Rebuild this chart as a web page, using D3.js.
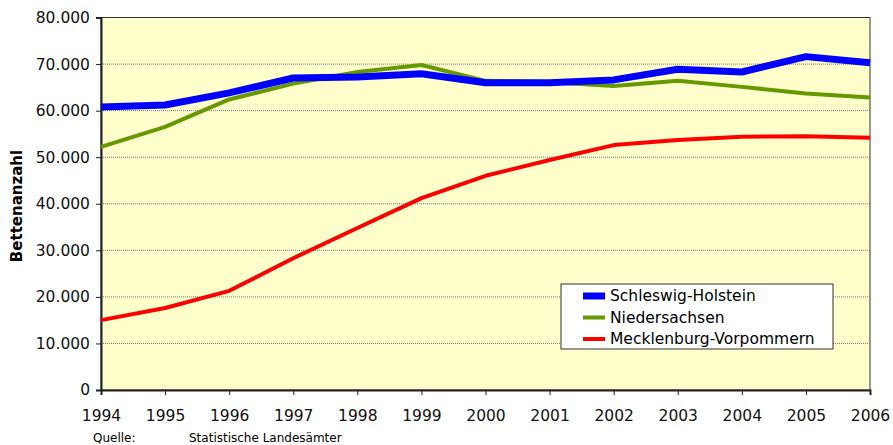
<!DOCTYPE html>
<html>
<head>
<meta charset="utf-8">
<script src="https://cdn.jsdelivr.net/npm/d3@7"></script>
<style>
  body { margin: 0; background: #fff; }
  svg { font-family: "DejaVu Sans", Verdana, sans-serif; }
  .axis path, .axis line { stroke: #222; }
</style>
</head>
<body>
<svg id="chart"></svg>
<script>
const years = [1994, 1995, 1996, 1997, 1998, 1999, 2000, 2001, 2002, 2003, 2004, 2005, 2006];
const schleswigHolstein = [60800, 61200, 63800, 67000, 67200, 67900, 66000, 66000, 66600, 68900, 68300, 71600, 70300];
const niedersachsen = [52200, 56500, 62400, 65800, 68300, 69800, 66400, 66100, 65300, 66400, 65100, 63700, 62800];
const mecklenburg = [15000, 17600, 21300, 28300, 34800, 41200, 46000, 49400, 52600, 53700, 54400, 54500, 54200];
const yTicks = [0, 10000, 20000, 30000, 40000, 50000, 60000, 70000, 80000];

const series = [
  {name: 'Schleswig-Holstein', values: schleswigHolstein, color: '#0000ff', width: 7},
  {name: 'Niedersachsen', values: niedersachsen, color: '#669900', width: 4},
  {name: 'Mecklenburg-Vorpommern', values: mecklenburg, color: '#ff0000', width: 4}
];

const W = 893, H = 445;
const margin = {top: 17.5, right: 23, bottom: 55, left: 101};
const width = W - margin.left - margin.right;
const height = H - margin.top - margin.bottom;

const svg = d3.select('#chart').attr('width', W).attr('height', H);
const chart = svg.append('g').attr('transform', `translate(${margin.left},${margin.top})`);

const xScale = d3.scaleLinear().domain([1994, 2006]).range([0, width]);
const yScale = d3.scaleLinear().domain([0, 80000]).range([height, 0]);

// plot background
chart.append('rect')
  .attr('width', width).attr('height', height)
  .attr('fill', '#ffffcc')
  .attr('stroke', '#333').attr('stroke-width', 1);

// dotted gridlines
chart.append('g').selectAll('line')
  .data(yTicks.filter(d => d > 0 && d < 80000))
  .enter().append('line')
  .attr('x1', 0).attr('x2', width)
  .attr('y1', d => yScale(d)).attr('y2', d => yScale(d))
  .attr('stroke', '#777').attr('stroke-width', 1)
  .attr('stroke-dasharray', '1,1');

const fmt = d => d === 0 ? '0' : d3.format(',')(d).replace(/,/g, '.');

const yAxis = d3.axisLeft(yScale).tickValues(yTicks).tickFormat(fmt).tickSize(5).tickPadding(6);
const yAxisG = chart.append('g').attr('class', 'axis y-axis').call(yAxis);
yAxisG.select('.domain').attr('stroke-width', 2);

const xAxis = d3.axisBottom(xScale).tickValues(years).tickFormat(d3.format('d')).tickSize(5).tickPadding(15);
const xAxisG = chart.append('g').attr('class', 'axis x-axis')
  .attr('transform', `translate(0,${height})`).call(xAxis);
xAxisG.select('.domain').attr('stroke-width', 2);

chart.selectAll('.axis').attr('font-family', null).attr('font-size', null);
chart.selectAll('.axis text').style('font-size', '15.5px').style('fill', '#111');

// lines
const line = d3.line()
  .x((d, i) => xScale(years[i]))
  .y(d => yScale(d));

chart.selectAll('.series')
  .data(series.slice().reverse())
  .enter().append('path')
  .attr('class', 'series')
  .attr('d', d => line(d.values))
  .attr('fill', 'none')
  .attr('stroke', d => d.color)
  .attr('stroke-width', d => d.width)
  .attr('stroke-linejoin', 'round');

// axis title
svg.append('text')
  .attr('transform', 'translate(22,206) rotate(-90)')
  .attr('text-anchor', 'middle')
  .style('font-size', '15px')
  .style('font-weight', 'bold')
  .text('Bettenanzahl');

// legend
const legend = svg.append('g').attr('transform', 'translate(561,284)');
legend.append('rect')
  .attr('width', 272).attr('height', 65)
  .attr('fill', '#fff').attr('stroke', '#333');
const rows = legend.selectAll('.row').data(series).enter().append('g')
  .attr('transform', (d, i) => `translate(0,${12 + i * 21.5})`);
rows.append('line')
  .attr('x1', 22).attr('x2', 44)
  .attr('stroke', d => d.color)
  .attr('stroke-width', d => d.width);
rows.append('text')
  .attr('x', 49).attr('dy', '0.35em')
  .style('font-size', '15.5px')
  .text(d => d.name);

// source
svg.append('text').attr('x', 93).attr('y', 442).style('font-size', '12px').text('Quelle:');
svg.append('text').attr('x', 189).attr('y', 442).style('font-size', '12px').text('Statistische Landesämter');
</script>
</body>
</html>
